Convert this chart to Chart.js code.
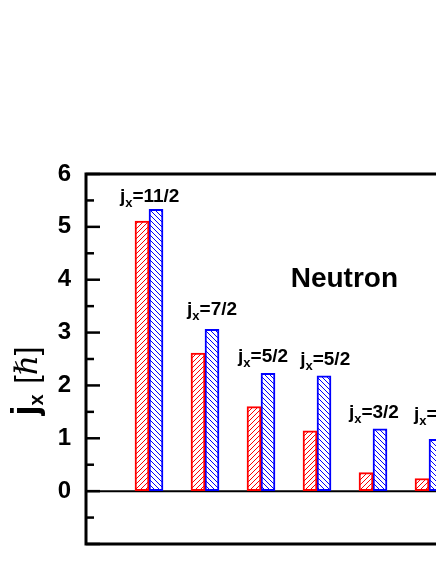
<!DOCTYPE html>
<html>
<head>
<meta charset="utf-8">
<script src="https://cdn.jsdelivr.net/npm/chart.js@4"></script>
<style>
  body { margin: 0; background: #fff; }
  #wrap { width: 436px; height: 564px; overflow: hidden; position: relative; }
</style>
</head>
<body>
<div id="wrap"><canvas id="myChart" width="520" height="564"></canvas></div>
<script>
// data
const slots = [1, 2, 3, 4, 5, 6];
const jxLabels = ['11/2', '7/2', '5/2', '5/2', '3/2', '1/2'];
const redVals = [5.11, 2.61, 1.60, 1.14, 0.35, 0.24];
const blueVals = [5.33, 3.06, 2.23, 2.18, 1.18, 0.98];
// label anchors (left edge x, baseline y) in data units
const labelX = [0.48, 1.68, 2.59, 3.70, 4.57, 5.73];
const labelY = [5.47, 3.33, 2.45, 2.38, 1.38, 1.34];

const FONT = '"Liberation Sans", Arial, sans-serif';

function hatch(color, dir) {
    const c = document.createElement('canvas');
    c.width = c.height = 5;
    const g = c.getContext('2d');
    g.fillStyle = '#fff';
    g.fillRect(0, 0, 5, 5);
    g.strokeStyle = color;
    g.lineWidth = 1;
    g.beginPath();
    if (dir > 0) {
        g.moveTo(0, 5); g.lineTo(5, 0);
        g.moveTo(-1, 1); g.lineTo(1, -1);
        g.moveTo(4, 6); g.lineTo(6, 4);
    } else {
        g.moveTo(0, 0); g.lineTo(5, 5);
        g.moveTo(-1, 4); g.lineTo(1, 6);
        g.moveTo(4, -1); g.lineTo(6, 1);
    }
    g.stroke();
    return g.createPattern(c, 'repeat');
}

const decor = {
    id: 'decor',
    beforeDatasetsDraw(chart) {
        const ctx = chart.ctx, a = chart.chartArea, y = chart.scales.y;
        ctx.save();
        ctx.strokeStyle = '#000';
        ctx.lineWidth = 2;
        ctx.beginPath();
        ctx.moveTo(a.left, y.getPixelForValue(0));
        ctx.lineTo(a.right, y.getPixelForValue(0));
        ctx.stroke();
        ctx.restore();
    },
    afterDraw(chart) {
        const ctx = chart.ctx, a = chart.chartArea;
        const x = chart.scales.x, y = chart.scales.y;
        ctx.save();
        // frame
        ctx.strokeStyle = '#000';
        ctx.lineWidth = 3;
        ctx.beginPath();
        ctx.moveTo(a.right, a.top);
        ctx.lineTo(a.left, a.top);
        ctx.lineTo(a.left, a.bottom);
        ctx.lineTo(a.right, a.bottom);
        ctx.stroke();
        // inward ticks
        ctx.lineWidth = 2.5;
        for (let v = -1; v <= 6; v += 0.5) {
            const py = y.getPixelForValue(v);
            const len = Number.isInteger(v) ? 14 : 8;
            ctx.beginPath();
            ctx.moveTo(a.left, py);
            ctx.lineTo(a.left + len, py);
            ctx.stroke();
        }
        // j_x labels
        ctx.fillStyle = '#000';
        ctx.textBaseline = 'alphabetic';
        ctx.textAlign = 'left';
        jxLabels.forEach((t, i) => {
            let px = x.getPixelForValue(labelX[i]);
            const py = y.getPixelForValue(labelY[i]);
            ctx.font = 'bold 19px ' + FONT;
            ctx.fillText('j', px, py);
            px += ctx.measureText('j').width;
            ctx.font = 'bold 13px ' + FONT;
            ctx.fillText('x', px, py + 5);
            px += ctx.measureText('x').width;
            ctx.font = 'bold 19px ' + FONT;
            ctx.fillText('=' + t, px, py);
        });
        // Neutron
        ctx.font = 'bold 28px ' + FONT;
        ctx.fillText('Neutron', x.getPixelForValue(3.53), y.getPixelForValue(3.86));
        // y title
        ctx.translate(37, 381);
        ctx.rotate(-Math.PI / 2);
        const parts = [
            ['j', 'bold 36px ' + FONT, 0],
            ['x', 'bold 20px ' + FONT, 6],
            ['  ', 'bold 19px ' + FONT, 0],
            ['[', '31px ' + FONT, 0],
            ['\u210F', 'italic 31px "DejaVu Serif", serif', 0],
            [']', '31px ' + FONT, 0]
        ];
        let w = 0;
        parts.forEach(p => { ctx.font = p[1]; w += ctx.measureText(p[0]).width; });
        let cx = -w / 2;
        parts.forEach(p => {
            ctx.font = p[1];
            ctx.fillText(p[0], cx, p[2]);
            cx += ctx.measureText(p[0]).width;
        });
        ctx.restore();
    }
};

const ctx = document.getElementById('myChart').getContext('2d');
const myChart = new Chart(ctx, {
    type: 'bar',
    data: {
        datasets: [{
            data: slots.map((s, i) => ({ x: s, y: redVals[i] })),
            backgroundColor: hatch('#ff0000', 1),
            borderColor: '#ff0000',
            borderWidth: 2,
            borderSkipped: false,
            barThickness: 14
        }, {
            data: slots.map((s, i) => ({ x: s, y: blueVals[i] })),
            backgroundColor: hatch('#0000ff', -1),
            borderColor: '#0000ff',
            borderWidth: 2,
            borderSkipped: false,
            barThickness: 14
        }]
    },
    options: {
        responsive: false,
        animation: false,
        devicePixelRatio: 1,
        layout: { padding: { left: 0, top: 174, right: 7, bottom: 20 } },
        plugins: { legend: { display: false }, tooltip: { enabled: false } },
        scales: {
            x: { type: 'linear', display: false, offset: false, min: -0.125, max: 7.5 },
            y: {
                min: -1, max: 6,
                border: { display: false },
                grid: { drawOnChartArea: false, drawTicks: false, color: 'transparent' },
                ticks: {
                    stepSize: 1,
                    autoSkip: false,
                    padding: 15,
                    color: '#000',
                    font: { family: FONT, size: 24, weight: 'bold' },
                    callback: v => (v >= 0 ? v : '')
                },
                afterFit: s => { s.width = 86; s.paddingTop = 0; s.paddingBottom = 0; }
            }
        }
    },
    plugins: [decor]
});
</script>
</body>
</html>
